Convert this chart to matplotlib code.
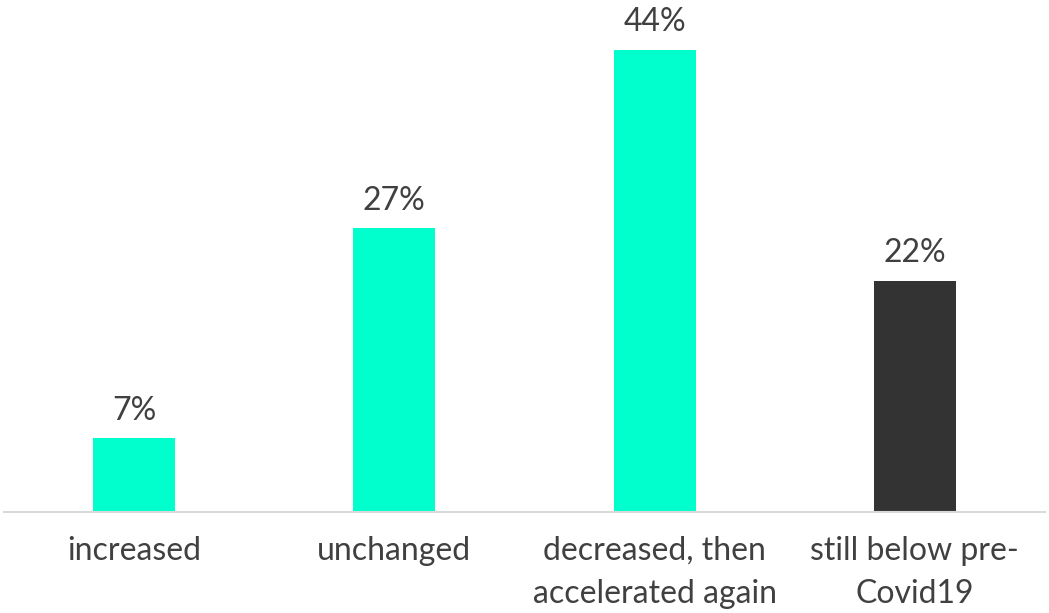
import matplotlib.pyplot as plt

categories = ['increased', 'unchanged', 'decreased, then\naccelerated again', 'still below pre-\nCovid19']
values = [7, 27, 44, 22]
colors = ['#00FFCC', '#00FFCC', '#00FFCC', '#333333']

plt.rcParams['font.family'] = ['Lato', 'DejaVu Sans']

fig = plt.figure(figsize=(10.49, 6.13), dpi=100)
ax = fig.add_axes([4 / 1049, 1 - 512 / 613, 1041 / 1049, 512 / 613])

x = range(len(values))
bars = ax.bar(x, values, width=0.315, color=colors)

for b, v in zip(bars, values):
    ax.annotate('{}%'.format(v), (b.get_x() + b.get_width() / 2, v),
                xytext=(0, 9), textcoords='offset points',
                ha='center', va='bottom', fontsize=23, color='#404040')

ax.set_xlim(-0.5, 3.5)
ax.set_ylim(0, 48.76)
ax.set_xticks(list(x))
ax.set_xticklabels(categories, fontsize=23, color='#404040', linespacing=1.55)
ax.tick_params(axis='x', length=0, pad=17)
ax.set_yticks([])
for s in ['top', 'right', 'left']:
    ax.spines[s].set_visible(False)
ax.spines['bottom'].set_color('#d9d9d9')
ax.spines['bottom'].set_linewidth(1.5)

fig.savefig('out.png', dpi=100)
